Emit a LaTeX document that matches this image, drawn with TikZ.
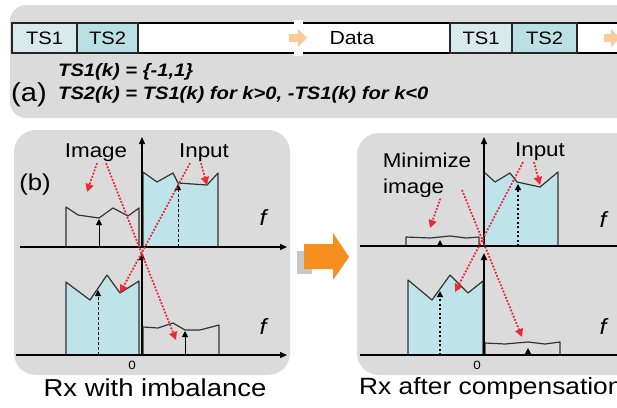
\documentclass[tikz,border=0pt]{standalone}
\usepackage{fontspec}
\setmainfont{Liberation Sans}[FakeStretch=1.12]
\usetikzlibrary{arrows.meta,patterns}
\definecolor{panel}{RGB}{219,219,219}
\definecolor{tsblue}{RGB}{186,224,228}
\definecolor{tshatch}{RGB}{206,228,230}
\definecolor{inblue}{RGB}{190,228,234}
\definecolor{orng}{RGB}{247,142,32}
\definecolor{rdot}{RGB}{238,40,52}
\tikzset{
  fs/.style={font=\fontsize{#1}{#1}\selectfont, inner sep=0pt},
  tsbox/.style={draw=black!85, line width=1.2pt, minimum height=30pt, inner sep=0pt, font=\fontsize{18}{18}\selectfont},
  hatch/.style={preaction={fill=tshatch}, pattern=north west lines, pattern color=white!70!tshatch},
  ax/.style={draw=black, line width=1.3pt, -{Triangle[length=7pt,width=6pt]}},
  shp/.style={draw=black!80, line width=1.2pt, line join=round},
  inp/.style={shp, fill=inblue},
  redarr/.style={draw=rdot, line width=1.8pt, dash pattern=on 1.8pt off 1.6pt, -{Triangle[length=8pt,width=8pt]}},
  mk/.style={draw=black, line width=1pt, -{Triangle[length=6pt,width=6pt]}},
  mkd/.style={mk, dash pattern=on 3pt off 2pt},
  mkdot/.style={mk, line width=1.4pt, dash pattern=on 2pt off 2.5pt},
  brk/.style={fill=orng, opacity=0.45},
  eqtext/.style={inner sep=0pt, anchor=west, font=\bfseries\itshape\fontsize{18}{18}\selectfont},
  ftext/.style={inner sep=0pt, font=\itshape\fontsize{22}{22}\selectfont},
}
\begin{document}
\begin{tikzpicture}[x=1pt,y=-1pt]
\useasboundingbox (0,0) rectangle (617,407);
\fill[white] (0,0) rectangle (617,407);
% panels
\fill[panel, rounded corners=16pt] (10,5) rectangle (680,118);
\fill[panel, rounded corners=22pt] (14,130) rectangle (290,375);
\fill[panel, rounded corners=22pt] (357,133) rectangle (700,375);

% ---- frame bar (a)
\fill[white] (12,23) rectangle (640,53);
\draw[line width=1.3pt] (12,23) -- (640,23) (12,53) -- (640,53);
\node[tsbox, hatch, minimum width=65pt] (ts1a) at (44.5,38) {TS1};
\node[tsbox, fill=tsblue, minimum width=61pt] (ts2a) at (107.5,38) {TS2};
\node[tsbox, hatch, minimum width=62pt] (ts1b) at (481,38) {TS1};
\node[tsbox, fill=tsblue, minimum width=65pt] (ts2b) at (544.5,38) {TS2};
\node[fs=19] (data) at (352,38) {Data};
\fill[white] (294,20) rectangle (303,56);
\fill[brk] (289,34) -- (298,34) -- (298,29) -- (307,38) -- (298,47) -- (298,42) -- (289,42) -- cycle;
\fill[brk] (604,34) -- (611,34) -- (611,29) -- (620,38) -- (611,47) -- (611,42) -- (604,42) -- cycle;

\node[eqtext] (eq1) at (58,72) {TS1(k) = \{-1,1\}};
\node[fs=26, anchor=west] (la) at (11,95) {(a)};
\node[eqtext] (eq2) at (58,95) {TS2(k) = TS1(k) for k>0, -TS1(k) for k<0};

% ---- left panel (b)
\node[fs=20] (imgL) at (96,153) {Image};
\node[fs=20] (inpL) at (204,153) {Input};
\node[fs=23] (bL) at (35,185) {(b)};
\node[ftext] (f1) at (263,218) {f};
\node[ftext] (f2) at (263,327) {f};
\node[fs=12] (z1) at (132,365) {0};

% upper shapes
\draw[shp] (66,247) -- (66,207) -- (78,215) -- (99,218) -- (113,208) -- (128,216) -- (139,208) -- (139,247);
\draw[inp] (143,247) -- (143,172) -- (157,182) -- (173,173) -- (178,183) -- (207,185) -- (218,173) -- (218,247);
\draw[mk] (99,247) -- (99,219);
\draw[mkd] (178,247) -- (178,184);
% lower shapes
\draw[inp] (66,355) -- (66,282) -- (90,300) -- (107,275) -- (120,293) -- (139,281) -- (139,355);
\draw[shp] (143,355) -- (143,327) -- (158,328) -- (173,323) -- (185,330) -- (200,330) -- (219,325) -- (219,355);
\draw[mkd] (98,355) -- (98,290);
\draw[mk] (185,355) -- (185,331);
% axes
\draw[ax] (20,247) -- (287,247);
\draw[ax] (16,355) -- (287,355);
\draw[ax] (142,247) -- (142,137);
\draw[ax, line width=2.4pt] (142,355) -- (142,253);
% red arrows
\coordinate (tL1) at (87,192);
\coordinate (tL2) at (176,340);
\coordinate (tL3) at (120,293);
\coordinate (tL4) at (207,185);
\draw[redarr] ([xshift=1pt,yshift=-1pt]imgL.south) -- (tL1);
\draw[redarr] ([xshift=10pt,yshift=-1pt]imgL.south) -- (tL2);
\draw[redarr] ([xshift=-14pt,yshift=-1pt]inpL.south) -- (tL3);
\draw[redarr] ([xshift=-3pt,yshift=-1pt]inpL.south) -- (tL4);

% ---- orange arrow
\fill[gray!55, opacity=0.8] (297,251) rectangle (312,274);
\fill[orng] (304,244) -- (333,244) -- (333,233) -- (349,257) -- (333,280) -- (333,269) -- (304,269) -- cycle;

% ---- right panel
\node[fs=20] (minR) at (427,160) {Minimize};
\node[fs=20, anchor=west] (imgR) at (383,188) {image};
\node[fs=20] (inpR) at (540,152) {Input};
\node[ftext] (f3) at (603,220) {f};
\node[ftext] (f4) at (603,327) {f};
\node[fs=12] (z2) at (477,365) {0};

\draw[shp] (406,246) -- (406,237) -- (430,238) -- (450,236) -- (466,238) -- (479,237) -- (479,246);
\draw[inp] (484,246) -- (484,172) -- (495,182) -- (510,173) -- (517,182) -- (540,187) -- (558,172) -- (558,246);
\draw[mk] (440,247) -- (440,240);
\draw[mkdot] (518,246) -- (518,184);
\draw[inp] (408,355) -- (408,280) -- (432,300) -- (450,275) -- (468,293) -- (483,281) -- (483,355);
\draw[shp] (485,355) -- (485,343) -- (505,344) -- (528,342) -- (545,344) -- (560,342) -- (560,355);
\draw[mkdot] (440,355) -- (440,291);
\draw[mk] (528,355) -- (528,348);

\draw[ax] (360,246) -- (640,246);
\draw[ax] (360,355) -- (640,355);
\draw[ax] (484,246) -- (484,137);
\draw[ax, line width=1.8pt] (484,355) -- (484,253);

\coordinate (tR1) at (430,228);
\coordinate (sR2) at (462,190);
\coordinate (tR2) at (522,337);
\coordinate (tR3) at (455,292);
\coordinate (tR4) at (540,185);
\draw[redarr] ([xshift=-4pt,yshift=-1pt]imgR.south east) -- (tR1);
\draw[redarr] (sR2) -- (tR2);
\draw[redarr] ([xshift=-17pt,yshift=-1pt]inpR.south) -- (tR3);
\draw[redarr] ([xshift=-6pt,yshift=-1pt]inpR.south) -- (tR4);

% captions
\node[fs=24.5] (cap1) at (155,388) {Rx with imbalance};
\node[fs=23.5, anchor=west] (cap2) at (359,388) {Rx after compensation};
\end{tikzpicture}
\end{document}
